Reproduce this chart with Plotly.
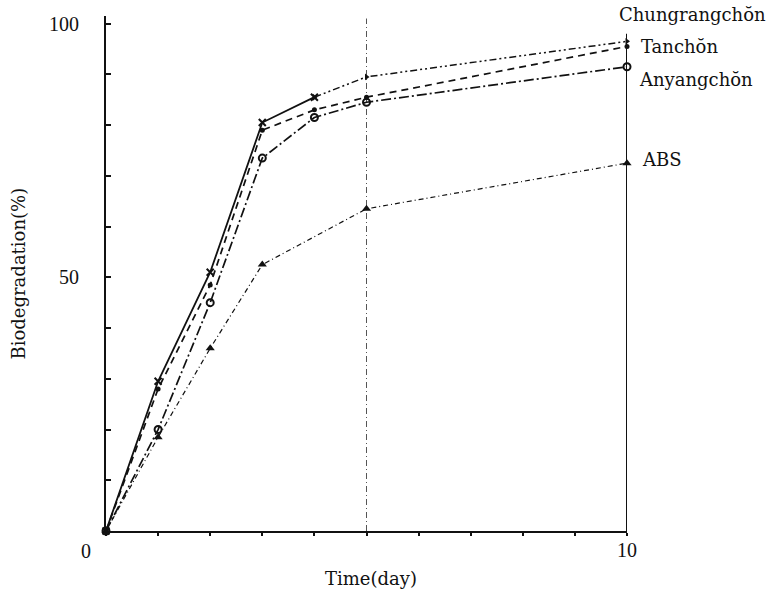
import plotly.graph_objects as go

# ---- data ----
days = [0, 1, 2, 3, 4, 5, 10]
chungrang = [0, 29.5, 51, 80.5, 85.5, 89.5, 96.5]
tanchon = [0, 28, 48.5, 79, 83, 85.5, 95.5]
anyang = [0, 20, 45, 73.5, 81.5, 84.5, 91.5]
abs_days = [0, 1, 2, 3, 5, 10]
abs_vals = [0, 18.5, 36, 52.5, 63.5, 72.5]

series_names = ["Chungrangchŏn", "Tanchŏn", "Anyangchŏn", "ABS"]
guide_days = [5]
x_ticks = list(range(0, 11))
y_ticks = list(range(0, 101, 10))

TEXT_FONT = "DejaVu Serif"
NUM_FONT = "Liberation Serif"
INK = "#111111"
Y_MAX = 101.5

fig = go.Figure()

# Chungrangchŏn: solid up to day 4, dash-dot-dot afterwards
split = 4
fig.add_trace(go.Scatter(x=days[:split + 1], y=chungrang[:split + 1], mode="lines+markers",
                         line=dict(color=INK, width=1.8),
                         marker=dict(symbol="x-thin", size=7, line=dict(color=INK, width=2)),
                         showlegend=False, cliponaxis=False))
fig.add_trace(go.Scatter(x=days[split:], y=chungrang[split:], mode="lines+markers",
                         line=dict(color=INK, width=1.5, dash="7px,3px,2px,3px,2px,3px"),
                         marker=dict(symbol="triangle-right", size=6, color=INK),
                         showlegend=False, cliponaxis=False))
fig.add_trace(go.Scatter(x=days, y=tanchon, mode="lines+markers",
                         line=dict(color=INK, width=1.7, dash="7px,5px"),
                         marker=dict(symbol="circle", size=5, color=INK),
                         showlegend=False, cliponaxis=False))
fig.add_trace(go.Scatter(x=days, y=anyang, mode="lines+markers",
                         line=dict(color=INK, width=1.7, dash="10px,3px,2px,3px"),
                         marker=dict(symbol="circle-open", size=7, color=INK, line=dict(width=2)),
                         showlegend=False, cliponaxis=False))
fig.add_trace(go.Scatter(x=abs_days, y=abs_vals, mode="lines+markers",
                         line=dict(color=INK, width=1.2, dash="5px,3px,1px,3px"),
                         marker=dict(symbol="triangle-up", size=8, color=INK),
                         showlegend=False, cliponaxis=False))

# guide lines
for d in guide_days:
    fig.add_shape(type="line", x0=d, x1=d, y0=0, y1=101, xref="x", yref="y",
                  line=dict(color="#555555", width=1, dash="6px,3px,1px,3px"), layer="below")
fig.add_shape(type="line", x0=days[-1], x1=days[-1], y0=0, y1=98, xref="x", yref="y",
              line=dict(color=INK, width=2))

# series labels at right (paper-referenced y so the top one is not dropped)
label_pos = [(101.8, -10), (95.5, 12), (89.0, 10), (73.2, 13)]
for name, (yv, xs) in zip(series_names, label_pos):
    fig.add_annotation(x=10, y=yv / Y_MAX, xref="x", yref="paper", text=name, showarrow=False,
                       xanchor="left", yanchor="middle", xshift=xs,
                       font=dict(family=TEXT_FONT, size=18, color=INK))

# axis titles and origin label
fig.add_annotation(x=(18 - 106) / 521, y=0.5, xref="paper", yref="paper",
                   text="Biodegradation(%)", textangle=-90, showarrow=False,
                   xanchor="center", yanchor="middle",
                   font=dict(family=TEXT_FONT, size=18, color=INK))
fig.add_annotation(x=(371 - 106) / 521, y=(531 - 578) / 515, xref="paper", yref="paper",
                   text="Time(day)", showarrow=False, xanchor="center", yanchor="middle",
                   font=dict(family=TEXT_FONT, size=18, color=INK))
fig.add_annotation(x=0, y=0, xref="x", yref="y", text="0", showarrow=False,
                   xanchor="center", yanchor="middle", xshift=-20, yshift=-20,
                   font=dict(family=NUM_FONT, size=20, color=INK))

fig.update_xaxes(range=[0, 10], tickvals=x_ticks,
                 ticktext=["" if t not in (10,) else str(t) for t in x_ticks],
                 ticks="outside", ticklen=3, tickwidth=2, tickcolor=INK,
                 showline=True, linecolor=INK, linewidth=2, showgrid=False, zeroline=False,
                 tickfont=dict(family=NUM_FONT, size=20, color=INK), ticklabelstandoff=-3)
fig.update_yaxes(range=[0, Y_MAX], tickvals=y_ticks,
                 ticktext=[str(t) if t in (50, 100) else "" for t in y_ticks],
                 ticks="inside", ticklen=5, tickwidth=1.5, tickcolor=INK,
                 showline=True, linecolor=INK, linewidth=2, showgrid=False, zeroline=False,
                 tickfont=dict(family=NUM_FONT, size=20, color=INK), ticklabelstandoff=21)

fig.update_layout(width=771, height=595, paper_bgcolor="white", plot_bgcolor="white",
                  margin=dict(l=106, r=144, t=16, b=64, autoexpand=False),
                  showlegend=False)

fig.write_html("out.html", config={"displayModeBar": False},
               post_script="document.body.style.margin='0';document.body.style.overflow='hidden';")
